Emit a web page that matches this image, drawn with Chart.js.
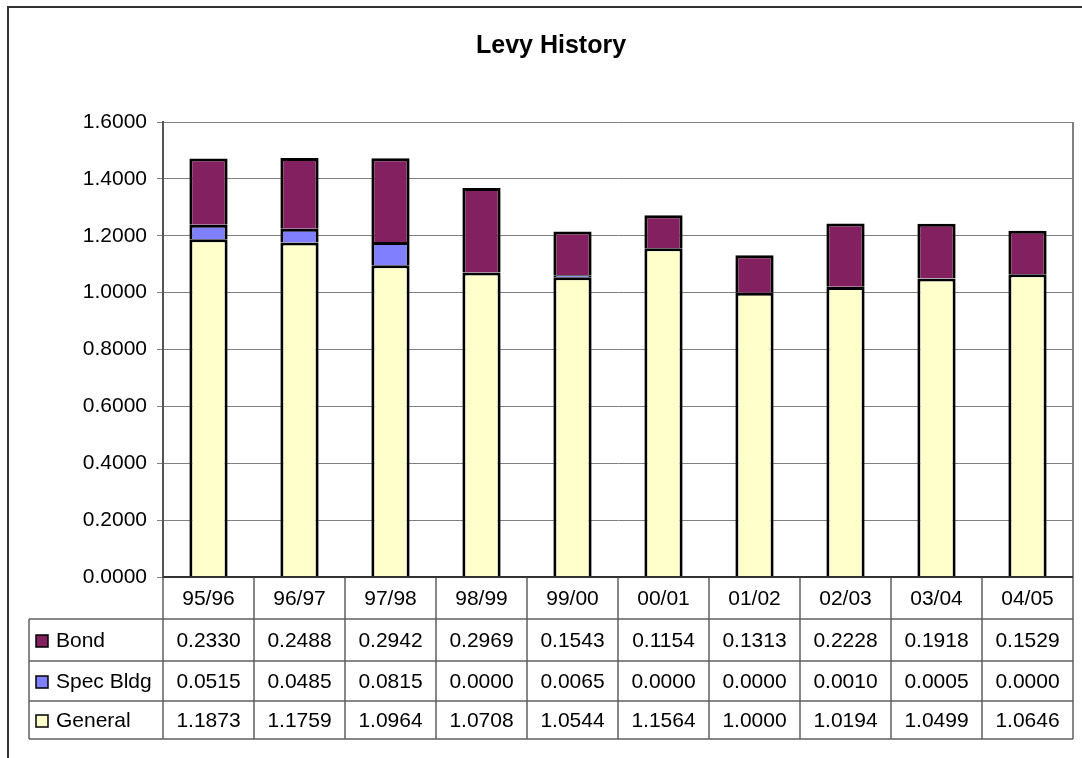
<!DOCTYPE html>
<html>
<head>
<meta charset="utf-8">
<script src="https://cdn.jsdelivr.net/npm/chart.js@4/dist/chart.umd.min.js"></script>
<style>
  html, body { margin: 0; padding: 0; background: #fff; }
  canvas { display: block; }
</style>
</head>
<body>
<canvas id="levyChart" width="1082" height="758"></canvas>
<script>
var categories = ['95/96', '96/97', '97/98', '98/99', '99/00', '00/01', '01/02', '02/03', '03/04', '04/05'];
var bond = [0.2330, 0.2488, 0.2942, 0.2969, 0.1543, 0.1154, 0.1313, 0.2228, 0.1918, 0.1529];
var specBldg = [0.0515, 0.0485, 0.0815, 0.0000, 0.0065, 0.0000, 0.0000, 0.0010, 0.0005, 0.0000];
var general = [1.1873, 1.1759, 1.0964, 1.0708, 1.0544, 1.1564, 1.0000, 1.0194, 1.0499, 1.0646];
var seriesColors = {
    bond: '#822060',
    spec: '#8080FF',
    general: '#FFFFCC'
};

var font = 'Liberation Sans, Arial, sans-serif';

// draws the outer frame, plot border and the data table under the bars
var tablePlugin = {
    id: 'levyTable',
    afterDraw: function (chart) {
        var ctx = chart.ctx;
        var area = chart.chartArea;
        var x = chart.scales.x;
        var colW = x.width / categories.length;
        var rowLines = [area.bottom, 619, 661, 701, 739];
        var tableLeft = 29;

        ctx.save();
        // outer chart frame
        ctx.strokeStyle = '#333';
        ctx.lineWidth = 2;
        ctx.beginPath();
        ctx.moveTo(8, 758);
        ctx.lineTo(8, 7);
        ctx.lineTo(1082, 7);
        ctx.stroke();

        // plot area right edge
        ctx.strokeStyle = '#808080';
        ctx.lineWidth = 2;
        ctx.beginPath();
        ctx.moveTo(area.right, area.top);
        ctx.lineTo(area.right, area.bottom);
        ctx.stroke();

        // table grid
        ctx.strokeStyle = '#606060';
        ctx.lineWidth = 1.5;
        ctx.beginPath();
        for (var r = 1; r < rowLines.length; r++) {
            ctx.moveTo(tableLeft, rowLines[r]);
            ctx.lineTo(area.right, rowLines[r]);
        }
        ctx.moveTo(tableLeft, rowLines[1]);
        ctx.lineTo(tableLeft, rowLines[4]);
        for (var c = 0; c <= categories.length; c++) {
            var lx = area.left + c * colW;
            ctx.moveTo(lx, rowLines[0]);
            ctx.lineTo(lx, rowLines[4]);
        }
        ctx.stroke();

        // category axis line
        ctx.strokeStyle = '#333';
        ctx.lineWidth = 2;
        ctx.beginPath();
        ctx.moveTo(area.left, area.bottom);
        ctx.lineTo(area.right, area.bottom);
        ctx.stroke();

        ctx.fillStyle = '#000';
        ctx.font = '21px ' + font;
        ctx.textBaseline = 'middle';
        ctx.textAlign = 'center';
        categories.forEach(function (cat, i) {
            ctx.fillText(cat, x.getPixelForValue(i), (rowLines[0] + rowLines[1]) / 2 + 1);
        });

        var rows = [
            { name: 'Bond', data: bond, color: seriesColors.bond },
            { name: 'Spec Bldg', data: specBldg, color: seriesColors.spec },
            { name: 'General', data: general, color: seriesColors.general }
        ];
        rows.forEach(function (row, r) {
            var cy = (rowLines[r + 1] + rowLines[r + 2]) / 2 + 1;
            ctx.fillStyle = row.color;
            ctx.fillRect(36, cy - 6, 12, 12);
            ctx.strokeStyle = '#000';
            ctx.lineWidth = 1.5;
            ctx.strokeRect(36, cy - 6, 12, 12);
            ctx.fillStyle = '#000';
            ctx.textAlign = 'left';
            ctx.fillText(row.name, 56, cy);
            ctx.textAlign = 'center';
            row.data.forEach(function (v, i) {
                ctx.fillText(v.toFixed(4), x.getPixelForValue(i), cy);
            });
        });
        ctx.restore();
    }
};

var ctx = document.getElementById('levyChart').getContext('2d');
var levyChart = new Chart(ctx, {
    type: 'bar',
    data: {
        labels: categories,
        datasets: [{
            label: 'General',
            data: general,
            backgroundColor: seriesColors.general
        }, {
            label: 'Spec Bldg',
            data: specBldg,
            backgroundColor: seriesColors.spec
        }, {
            label: 'Bond',
            data: bond,
            backgroundColor: seriesColors.bond
        }]
    },
    options: {
        responsive: false,
        animation: false,
        devicePixelRatio: 1,
        layout: {
            padding: { left: 29, right: 9, top: 0, bottom: 181 }
        },
        datasets: {
            bar: {
                borderColor: '#000',
                borderWidth: 3,
                borderSkipped: 'start',
                barPercentage: 0.42,
                categoryPercentage: 1
            }
        },
        plugins: {
            legend: { display: false },
            tooltip: { enabled: false },
            title: {
                display: true,
                text: 'Levy History',
                color: '#000',
                font: { family: font, size: 25, weight: 'bold' },
                padding: { top: 31, bottom: 61 }
            }
        },
        scales: {
            x: {
                stacked: true,
                display: false
            },
            y: {
                stacked: true,
                min: 0,
                max: 1.6,
                afterFit: function (scale) { scale.width = 134; },
                border: { color: '#555', width: 2 },
                grid: { color: '#808080', lineWidth: 1, tickLength: 6 },
                ticks: {
                    stepSize: 0.2,
                    padding: 10,
                    color: '#000',
                    font: { family: font, size: 21 },
                    callback: function (v) { return Number(v).toFixed(4); }
                }
            }
        }
    },
    plugins: [tablePlugin]
});
</script>
</body>
</html>
